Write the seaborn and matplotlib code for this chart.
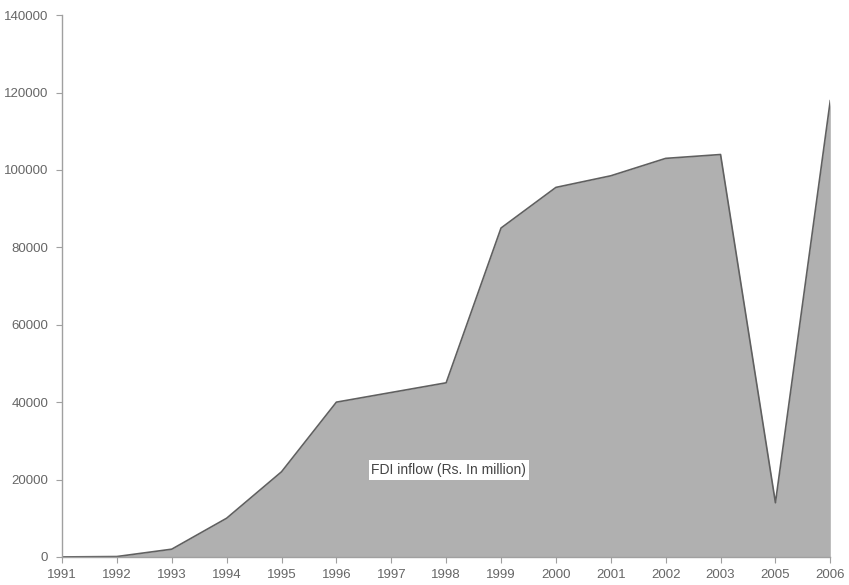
import numpy as np
import pandas as pd
import matplotlib
matplotlib.use("Agg")
import matplotlib.pyplot as plt
import seaborn as sns

years = ["1991", "1992", "1993", "1994", "1995", "1996", "1997", "1998",
         "1999", "2000", "2001", "2002", "2003", "2005", "2006"]
fdi_inflow = [0, 100, 2000, 10000, 22000, 40000, 42500, 45000,
              85000, 95500, 98500, 103000, 104000, 14000, 118000]
series_label = "FDI inflow (Rs. In million)"

df = pd.DataFrame({"pos": np.arange(len(years)), "year": years, "fdi": fdi_inflow})

sns.set_style("white")
plt.rcParams["font.family"] = ["Liberation Sans", "DejaVu Sans"]

fig = plt.figure(figsize=(8.49, 5.85), dpi=100)
ax = fig.add_axes([0.073, 0.048, 0.905, 0.926])

ax.fill_between(df["pos"], 0, df["fdi"], color="#b0b0b0", linewidth=0, zorder=1)
sns.lineplot(data=df, x="pos", y="fdi", color="#606060", linewidth=1.2, ax=ax, zorder=2)

ax.set_xlim(0, len(years) - 1)
ax.set_ylim(0, 140000)
ax.set_xticks(df["pos"])
ax.set_xticklabels(years)
ax.set_yticks(np.arange(0, 140001, 20000))
ax.set_xlabel("")
ax.set_ylabel("")

for side in ["top", "right"]:
    ax.spines[side].set_visible(False)
for side in ["left", "bottom"]:
    ax.spines[side].set_color("#a0a0a0")
    ax.spines[side].set_linewidth(1.0)
ax.tick_params(axis="both", direction="out", length=4, width=0.8,
               bottom=True, left=True,
               color="#a0a0a0", labelcolor="#666666", labelsize=9.5)
ax.tick_params(axis="x", pad=5)
ax.tick_params(axis="y", pad=6)

ax.text(7.05, 22500, series_label, ha="center", va="center", fontsize=10,
        color="#444444", zorder=3,
        bbox=dict(boxstyle="square,pad=0.2", facecolor="white", edgecolor="none"))

fig.savefig("out.png", dpi=100)
